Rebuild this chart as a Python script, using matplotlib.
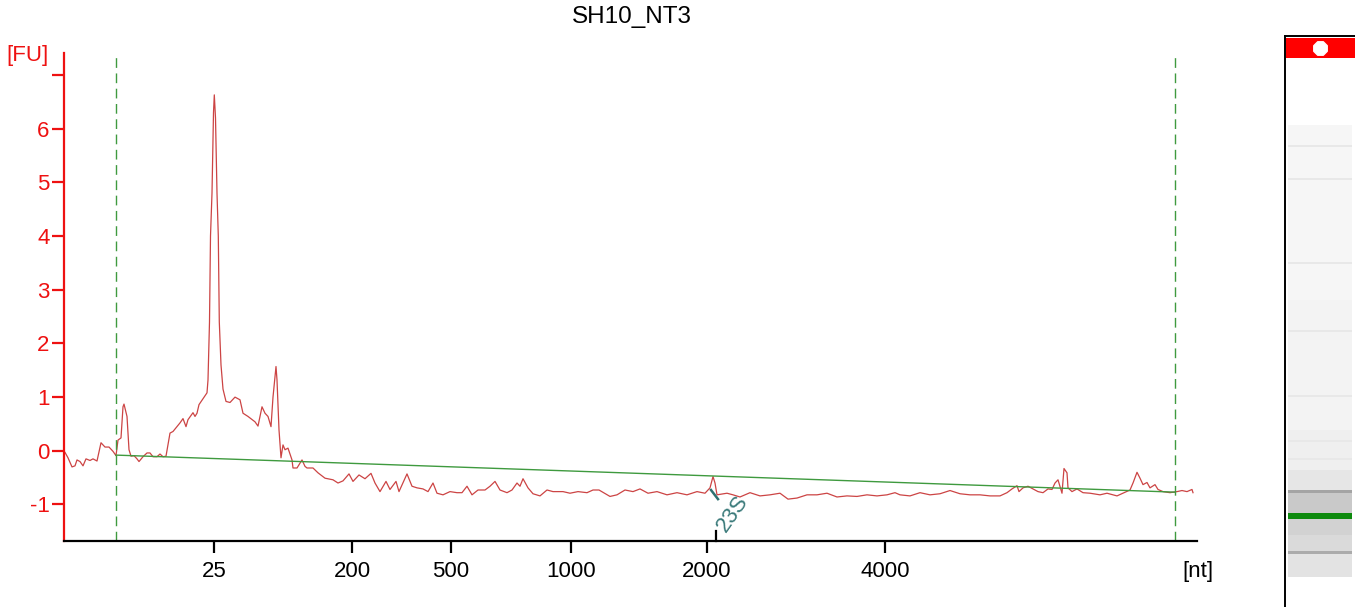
import numpy as np
import matplotlib
matplotlib.use("Agg")
import matplotlib.pyplot as plt

# electropherogram SH10_NT3 (position along the run vs. fluorescence)
sample_name = "SH10_NT3"

pos = np.array([
    1, 4, 8, 11, 13, 16, 19, 22, 26, 29, 33, 37, 41, 45, 49, 52, 54, 57, 59, 60,
    63, 65, 67, 70, 73, 75, 79, 83, 86, 89, 93, 96, 99, 102, 106, 109, 113, 116,
    119, 122, 124, 129, 131, 133, 135, 139, 143, 144, 145.5, 146.5, 148, 149.5,
    150.3, 151.5, 153, 154.3, 155.3, 157, 159, 162, 166, 171, 176, 179, 184, 191,
    194, 198, 201, 204, 207, 209, 212, 213, 215, 217, 219, 221, 224, 228, 229,
    233, 238, 241, 243, 249, 254, 261, 269, 274, 279, 285, 289, 295, 301, 307,
    311, 316, 322, 326, 332, 335, 343, 348, 353, 359, 364, 369, 373, 379, 386,
    393, 398, 403, 408, 414, 421, 426, 431, 436, 443, 448, 453, 456, 459, 464,
    469, 476, 483, 489, 499, 506, 514, 523, 529, 535, 546, 553, 561, 569, 576,
    584, 593, 603, 613, 623, 633, 641, 646, 649, 651, 653, 663, 669, 676, 686,
    696, 706, 716, 724, 733, 743, 753, 763, 773, 783, 793, 803, 813, 823, 831,
    836, 846, 856, 866, 876, 886, 896, 906, 916, 926, 936, 943, 948, 953, 955,
    959, 964, 969, 974, 979, 984, 988, 991, 994, 998, 1000, 1003, 1004, 1008,
    1013, 1019, 1026, 1036, 1043, 1053, 1059, 1066, 1069, 1073, 1076, 1079,
    1083, 1086, 1091, 1094, 1099, 1106, 1113, 1118, 1123, 1128, 1129,
])
fu = np.array([
    -0.03, -0.13, -0.30, -0.28, -0.17, -0.20, -0.28, -0.15, -0.18, -0.15, -0.19,
    0.15, 0.07, 0.07, -0.01, -0.09, 0.20, 0.24, 0.82, 0.87, 0.64, 0.02, -0.10,
    -0.09, -0.15, -0.20, -0.11, -0.04, -0.04, -0.11, -0.11, -0.06, -0.11, -0.10,
    0.33, 0.36, 0.45, 0.52, 0.60, 0.45, 0.58, 0.71, 0.64, 0.70, 0.86, 0.97, 1.08,
    1.32, 2.4, 4.0, 4.8, 6.3, 6.63, 6.2, 4.8, 4.0, 2.4, 1.6, 1.15, 0.92, 0.90,
    1.00, 0.95, 0.70, 0.64, 0.54, 0.46, 0.82, 0.70, 0.64, 0.45, 1.00, 1.57, 1.32,
    0.39, -0.13, 0.11, 0.02, 0.05, -0.17, -0.32, -0.32, -0.17, -0.29, -0.32,
    -0.32, -0.41, -0.51, -0.54, -0.60, -0.56, -0.43, -0.57, -0.45, -0.52, -0.42,
    -0.60, -0.76, -0.57, -0.72, -0.57, -0.76, -0.43, -0.66, -0.69, -0.71, -0.76,
    -0.60, -0.79, -0.82, -0.76, -0.78, -0.78, -0.66, -0.82, -0.73, -0.73, -0.66,
    -0.57, -0.73, -0.78, -0.73, -0.60, -0.66, -0.52, -0.69, -0.80, -0.84, -0.73,
    -0.76, -0.76, -0.79, -0.76, -0.78, -0.73, -0.73, -0.85, -0.82, -0.73, -0.76,
    -0.71, -0.79, -0.76, -0.82, -0.78, -0.82, -0.76, -0.79, -0.69, -0.48, -0.60,
    -0.82, -0.79, -0.82, -0.86, -0.78, -0.84, -0.82, -0.79, -0.90, -0.88, -0.82,
    -0.82, -0.79, -0.86, -0.84, -0.85, -0.82, -0.84, -0.82, -0.78, -0.82, -0.84,
    -0.78, -0.82, -0.80, -0.74, -0.80, -0.82, -0.82, -0.84, -0.84, -0.78, -0.71,
    -0.65, -0.76, -0.69, -0.66, -0.71, -0.76, -0.78, -0.71, -0.72, -0.60, -0.54,
    -0.79, -0.33, -0.41, -0.69, -0.76, -0.71, -0.78, -0.79, -0.82, -0.79, -0.84,
    -0.79, -0.73, -0.60, -0.40, -0.51, -0.63, -0.59, -0.69, -0.63, -0.72, -0.76,
    -0.78, -0.76, -0.74, -0.76, -0.72, -0.78,
])

# baseline drawn between the two dashed markers
baseline_pos = [52, 1111]
baseline_fu = [-0.08, -0.77]

# size ladder tick labels
ladder_pos = [150, 288, 387, 507, 643, 821]
ladder_nt = ["25", "200", "500", "1000", "2000", "4000"]

peak_name = "23S"
peak_pos = 651
peak_fu = -0.48

# gel lane: segments (top row, bottom row) and grey level
gel_top = [125, 300, 430, 470, 490, 493, 513, 519, 535, 551, 554]
gel_bot = [300, 430, 470, 490, 493, 513, 519, 535, 551, 554, 577]
gel_col = ["#f6f6f6", "#f3f3f3", "#efefef", "#e6e6e6", "#a4a4a4", "#c9c9c9",
           "#0d8a0d", "#d2d2d2", "#dadada", "#ababab", "#e3e3e3"]
gel_faint = [145, 178, 262, 330, 395, 440, 458]

plt.rcParams['font.family'] = ['Liberation Sans', 'DejaVu Sans']

fig = plt.figure(figsize=(13.55, 6.07), dpi=100)
ax = fig.add_axes([64 / 1355, 66 / 607, 1133 / 1355, 488 / 607])

ax.plot(pos, fu, color="#cc4444", lw=0.9)
ax.plot(baseline_pos, baseline_fu, color="#3f9a3f", lw=1.0)
for xv in baseline_pos:
    ax.axvline(xv, color="#3f9a3f", lw=1.0, ls=(0, (7, 4)))

ax.set_xlim(0, 1133)
ax.set_ylim(-1.68, 7.41)

for s in ["top", "right"]:
    ax.spines[s].set_visible(False)
ax.spines["left"].set_color("#ee1111")
ax.spines["left"].set_linewidth(1.6)
ax.spines["bottom"].set_color("black")
ax.spines["bottom"].set_linewidth(1.6)

ax.set_yticks(range(-1, 8))
ax.set_yticklabels([str(v) for v in range(-1, 7)] + [""])
ax.tick_params(axis="y", colors="#ee1111", labelcolor="#ee1111", length=8.5,
               width=1.6, pad=2, labelsize=16)
ax.set_xticks(ladder_pos)
ax.set_xticklabels(ladder_nt)
ax.tick_params(axis="x", colors="black", length=8.5, width=1.6, pad=6, labelsize=16)

# 23S marker
ax.plot([peak_pos + 0.5, peak_pos + 0.5], [-1.68, -1.49], color="black", lw=1.6, clip_on=False)
ax.plot([peak_pos - 4, peak_pos + 3], [peak_fu - 0.25, peak_fu - 0.42], color="#2e7070", lw=1.8)
ax.text(peak_pos + 11, -1.53, peak_name, rotation=55, color="#3a7a7a", fontsize=16,
        ha="left", va="baseline", rotation_mode="anchor")

fig.text(632 / 1355, 1 - 17 / 607, sample_name, ha="center", va="center", fontsize=17.5)
fig.text(27 / 1355, 1 - 56 / 607, "[FU]", ha="center", va="center", fontsize=16, color="#ee1111")
fig.text(1198 / 1355, 1 - 572 / 607, "[nt]", ha="center", va="center", fontsize=16)

# gel lane on the right
gx = fig.add_axes([1285 / 1355, 0, 70 / 1355, (607 - 36) / 607])
gx.set_xlim(0, 1)
gx.set_ylim(607, 36)
gx.set_xticks([])
gx.set_yticks([])
for s in ["right", "bottom"]:
    gx.spines[s].set_visible(False)
gx.spines["left"].set_linewidth(1.4)
gx.spines["top"].set_linewidth(1.4)
gx.axhspan(38, 58, xmin=0.02, xmax=1, color="#ff0000", lw=0)
gx.scatter([0.5], [48], s=110, marker="8", color="white", zorder=3)
for t, b, c in zip(gel_top, gel_bot, gel_col):
    gx.axhspan(t, b, xmin=0.04, xmax=0.96, color=c, lw=0)
for r in gel_faint:
    gx.axhspan(r, r + 2, xmin=0.04, xmax=0.96, color="#e8e8e8", lw=0)

fig.savefig("out.png", dpi=100)
